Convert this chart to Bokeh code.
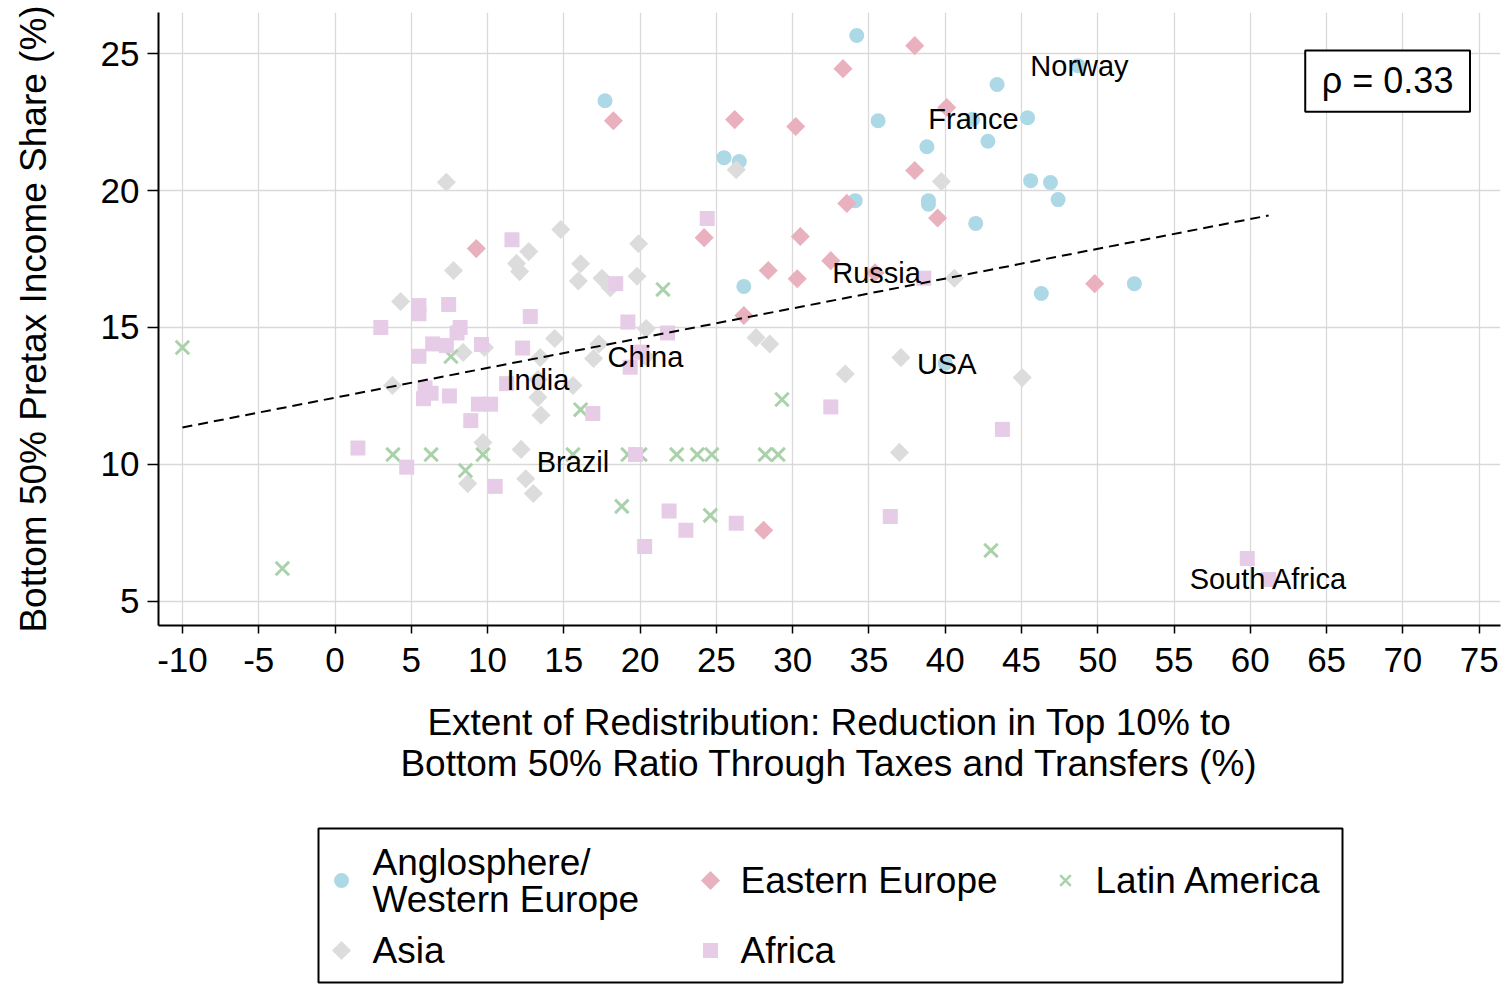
from bokeh.plotting import figure
from bokeh.layouts import column
from bokeh.models import Range1d, FixedTicker, BoxAnnotation, Label, ColumnDataSource
from bokeh.core.properties import value
from bokeh.embed import file_html
from bokeh.resources import INLINE

FONT = "Liberation Sans"

# ---------------- data ----------------
anglo_x = [34.2, 17.7, 43.4, 48.7, 45.4, 35.6, 41.8, 42.8, 38.8, 25.5, 26.5, 45.6, 46.9, 47.4,
           34.1, 38.9, 38.9, 42.0, 26.8, 46.3, 52.4, 40.0]
anglo_y = [25.66, 23.28, 23.87, 24.56, 22.66, 22.55, 22.6, 21.8, 21.6, 21.2, 21.06, 20.36, 20.29, 19.67,
           19.63, 19.63, 19.5, 18.8, 16.5, 16.24, 16.6, 13.7]

ee_x = [38.0, 33.3, 18.25, 26.2, 30.2, 40.1, 38.0, 33.55, 39.5, 9.26, 24.2, 30.5, 28.4, 30.3,
        32.5, 35.4, 49.8, 26.8, 28.1]
ee_y = [25.29, 24.45, 22.55, 22.59, 22.34, 23.03, 20.73, 19.53, 19.0, 17.88, 18.28, 18.32, 17.08, 16.78,
        17.44, 17.0, 16.6, 15.44, 7.6]

asia_x = [7.3, 7.77, 4.3, 14.8, 19.9, 12.7, 11.9, 12.1, 16.1, 15.95, 17.5, 18.05, 19.8, 20.4, 27.6,
          28.5, 14.4, 17.3, 13.45, 16.95, 8.4, 9.8, 3.77, 15.6, 13.3, 13.5, 9.7, 12.2, 8.7, 12.5,
          13.0, 26.3, 39.75, 40.6, 37.1, 33.45, 45.05, 37.0, 20.35, 13.3]
asia_y = [20.3, 17.08, 15.95, 18.58, 18.06, 17.77, 17.34, 17.04, 17.33, 16.7, 16.8, 16.45, 16.87, 14.96, 14.63,
          14.4, 14.6, 14.4, 13.9, 13.87, 14.09, 14.27, 12.88, 12.88, 12.45, 11.8, 10.8, 10.55, 9.3, 9.48,
          8.94, 20.76, 20.33, 16.8, 13.9, 13.3, 13.17, 10.44, 13.94, 13.1]

lat_x = [-10.0, -3.45, 7.6, 3.8, 6.3, 8.55, 9.7, 21.5, 16.1, 15.6, 19.2, 20.0, 22.4, 23.75, 24.7,
         28.2, 29.05, 29.3, 18.8, 24.6, 43.0]
lat_y = [14.27, 6.2, 13.94, 10.36, 10.36, 9.78, 10.36, 16.39, 12.0, 10.36, 10.36, 10.36, 10.36, 10.36, 10.36,
         10.36, 10.36, 12.37, 8.47, 8.14, 6.86]

afr_x = [3.0, 5.5, 5.5, 7.45, 8.2, 8.0, 6.4, 7.3, 9.6, 5.5, 5.9, 6.3, 5.8, 7.5, 9.4, 10.2, 8.9, 1.5,
         4.7, 10.5, 11.6, 24.4, 18.4, 12.8, 19.2, 21.8, 12.3, 19.35, 11.25, 16.9, 19.7, 21.9, 23.0,
         26.3, 32.5, 20.3, 38.6, 43.75, 36.4, 59.8, 61.2, 20.1]
afr_y = [15.0, 15.8, 15.5, 15.84, 15.0, 14.8, 14.4, 14.34, 14.38, 13.95, 12.8, 12.6, 12.4, 12.5, 12.2, 12.2,
         11.6, 10.6, 9.9, 9.2, 18.2, 18.98, 16.6, 15.4, 15.2, 14.8, 14.25, 13.55, 12.95, 11.86, 10.36, 8.3,
         7.6, 7.85, 12.1, 7.0, 16.8, 11.28, 8.1, 6.57, 5.8, 14.1]

fit_x = [-10.0, 61.2]
fit_y = [11.35, 19.09]

label_names = ["Norway", "France", "Russia", "USA", "China", "India", "Brazil", "South Africa"]
label_x = [48.8, 41.85, 35.5, 40.1, 20.35, 13.3, 15.6, 61.2]
label_y = [24.56, 22.6, 17.0, 13.65, 13.94, 13.1, 10.1, 5.8]

x_ticks = list(range(-10, 80, 5))
y_ticks = [5, 10, 15, 20, 25]
rho_text = "\u03c1 = 0.33"
group_names = ["Anglosphere/\nWestern Europe", "Eastern Europe", "Latin America", "Asia", "Africa"]

# colours / markers per group
C_ANGLO, C_EE, C_ASIA, C_LAT, C_AFR = "#ADD8E6", "#E9B0BE", "#DCDCDC", "#AAD2AA", "#E6CCE6"
DIAMOND_ANGLE = 0.7854

# ---------------- main figure ----------------
p = figure(width=1501, height=800,
           x_range=Range1d(-11.57, 76.4), y_range=Range1d(4.12, 26.5),
           output_backend="svg", toolbar_location=None,
           min_border_left=158, min_border_right=1, min_border_top=12, min_border_bottom=175)
p.outline_line_color = None
p.background_fill_color = "white"

for ax in (p.xaxis[0], p.yaxis[0]):
    ax.axis_line_color = "black"
    ax.axis_line_width = 2
    ax.major_tick_line_color = "black"
    ax.major_tick_line_width = 1.5
    ax.major_tick_in = 0
    ax.minor_tick_out = 0
    ax.minor_tick_in = 0
    ax.major_label_text_font = FONT
    ax.major_label_text_font_size = "35px"
    ax.major_label_text_color = "black"
    ax.axis_label_text_font = FONT
    ax.axis_label_text_font_size = "37px"
    ax.axis_label_text_font_style = "normal"
    ax.axis_label_text_color = "black"

p.xaxis.ticker = FixedTicker(ticks=x_ticks)
p.xaxis.major_label_overrides = {t: str(t) for t in x_ticks}
p.yaxis.ticker = FixedTicker(ticks=y_ticks)
p.xaxis.major_tick_out = 8
p.yaxis.major_tick_out = 11
p.xaxis.major_label_standoff = 14
p.yaxis.major_label_standoff = 8
p.xaxis.axis_label = "Extent of Redistribution: Reduction in Top 10% to\nBottom 50% Ratio Through Taxes and Transfers (%)"
p.xaxis.axis_label_text_line_height = 1.0
p.xaxis.axis_label_standoff = 27
p.yaxis.axis_label = "Bottom 50% Pretax Income Share (%)"
p.yaxis.axis_label_standoff = 44

p.xgrid.grid_line_color = "#d9d9d9"
p.ygrid.grid_line_color = "#d9d9d9"
p.xgrid.grid_line_width = 1.3
p.ygrid.grid_line_width = 1.3

p.scatter(anglo_x, anglo_y, marker="circle", size=15, fill_color=C_ANGLO, line_color=None)
p.scatter(ee_x, ee_y, marker="square", angle=DIAMOND_ANGLE, size=13.5, fill_color=C_EE, line_color=None)
p.scatter(asia_x, asia_y, marker="square", angle=DIAMOND_ANGLE, size=13.5, fill_color=C_ASIA, line_color=None)
p.scatter(lat_x, lat_y, marker="x", size=19, line_color=C_LAT, line_width=3)
p.scatter(afr_x, afr_y, marker="square", size=15, fill_color=C_AFR, line_color=None)

p.line(fit_x, fit_y, line_color="black", line_width=2, line_dash="10 6")

lsrc = ColumnDataSource(dict(x=label_x, y=label_y, t=label_names))
p.text(x="x", y="y", text="t", source=lsrc, text_font=value(FONT), text_font_size="29px",
       text_align="center", text_baseline="middle", text_color="black")

p.add_layout(BoxAnnotation(left=63.6, right=74.4, top=25.11, bottom=22.88,
                           fill_color="white", fill_alpha=1.0, line_color="black",
                           line_alpha=1.0, line_width=2))
p.add_layout(Label(x=69.0, y=24.0, text=rho_text, text_align="center", text_baseline="middle",
                   text_font=FONT, text_font_size="36px", text_color="black"))

# ---------------- legend panel (page-pixel coordinates, frame aligned with main plot) ----------------
LH = 184
leg = figure(width=1501, height=LH, x_range=Range1d(158, 1500), y_range=Range1d(LH, 0),
             x_axis_type=None, y_axis_type=None, output_backend="svg", toolbar_location=None,
             min_border_left=158, min_border_right=1, min_border_top=0, min_border_bottom=0)
leg.grid.visible = False
leg.outline_line_color = None

leg.add_layout(BoxAnnotation(left=318, right=1342, top=28, bottom=182,
                             fill_alpha=0.0, line_color="black",
                             line_alpha=1.0, line_width=2))

col_glyph = [341, 710, 1065]
col_text = [372, 740, 1095]
row_y = [80, 150]

leg.scatter([col_glyph[0]], [row_y[0]], marker="circle", size=15, fill_color=C_ANGLO, line_color=None)
leg.scatter([col_glyph[1]], [row_y[0]], marker="square", angle=DIAMOND_ANGLE, size=13.5, fill_color=C_EE, line_color=None)
leg.scatter([col_glyph[2]], [row_y[0]], marker="x", size=15, line_color=C_LAT, line_width=2.5)
leg.scatter([col_glyph[0]], [row_y[1]], marker="square", angle=DIAMOND_ANGLE, size=13.5, fill_color=C_ASIA, line_color=None)
leg.scatter([col_glyph[1]], [row_y[1]], marker="square", size=15, fill_color=C_AFR, line_color=None)

first_lines = group_names[0].split("\n")
leg_txt = ColumnDataSource(dict(
    x=[col_text[0], col_text[0], col_text[1], col_text[2], col_text[0], col_text[1]],
    y=[row_y[0] - 18.5, row_y[0] + 18.5, row_y[0], row_y[0], row_y[1], row_y[1]],
    t=[first_lines[0], first_lines[1], group_names[1], group_names[2], group_names[3], group_names[4]],
))
leg.text(x="x", y="y", text="t", source=leg_txt, text_font=value(FONT), text_font_size="37px",
         text_align="left", text_baseline="middle", text_color="black")

layout = column(p, leg, spacing=0)
open("out.html", "w").write(file_html(layout, INLINE))
